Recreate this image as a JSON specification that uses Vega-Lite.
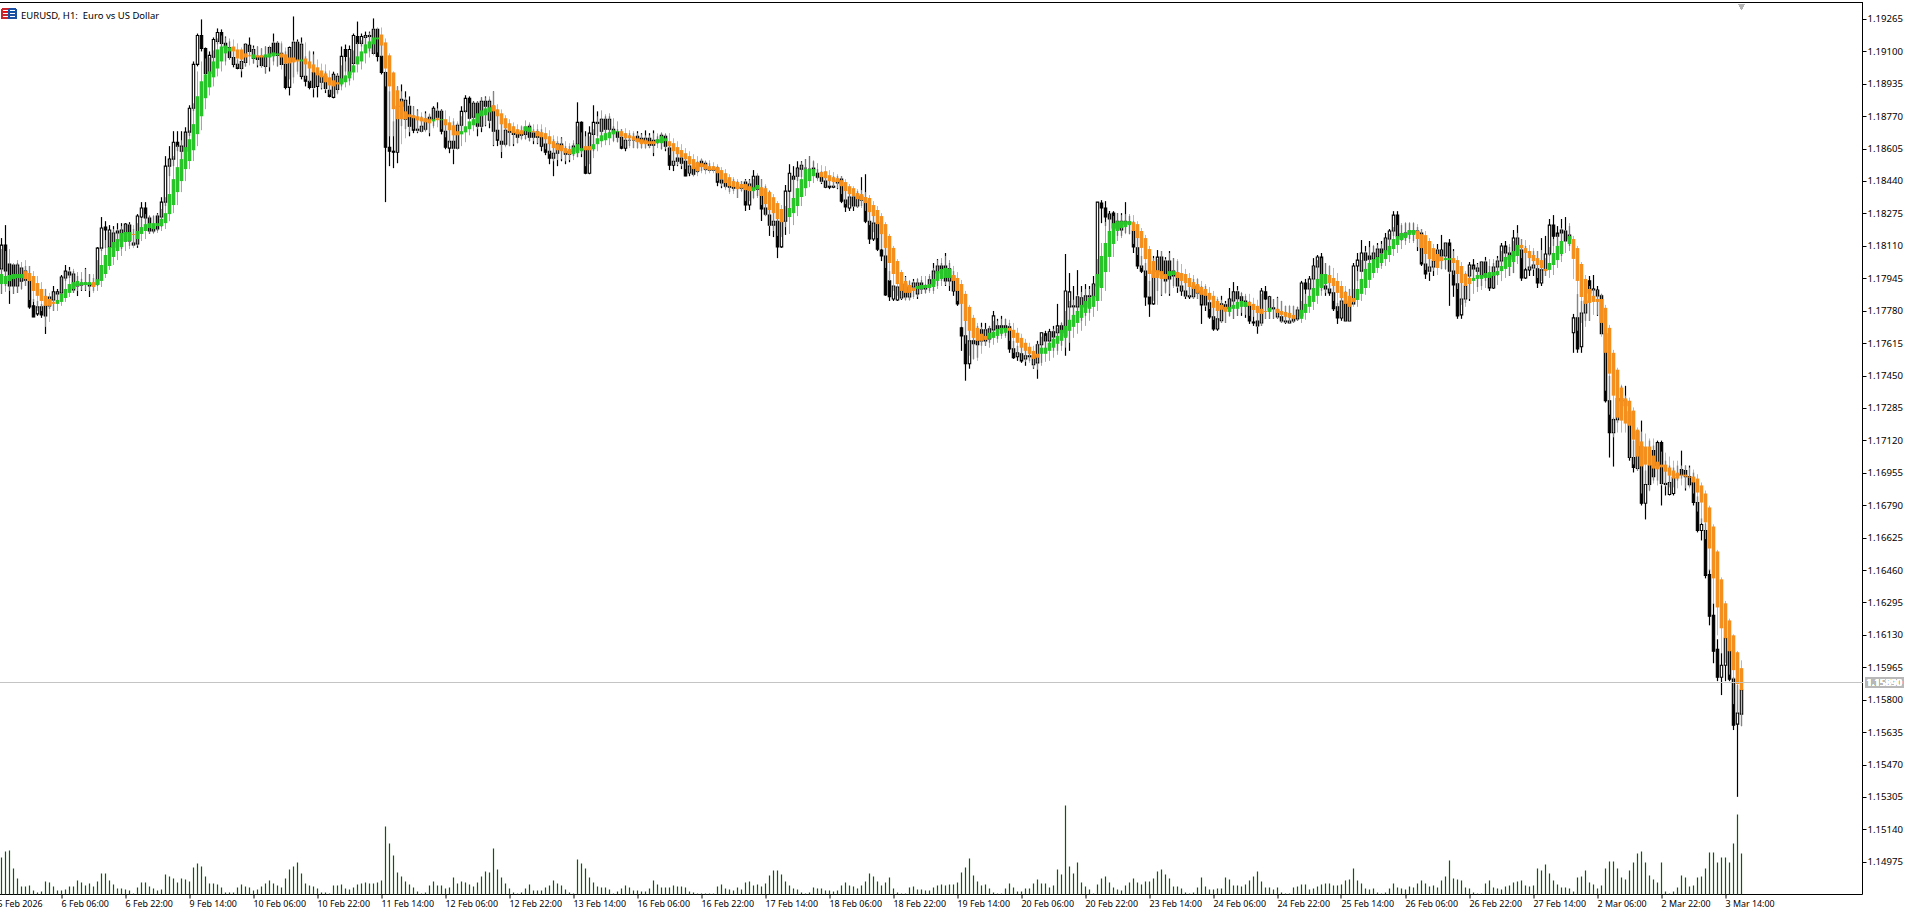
{"width":1862.5,"height":892,"autosize":"none","padding":{"left":0,"top":2.5,"right":49,"bottom":17},"background":"#ffffff","config":{"view":{"stroke":null},"font":"Noto Sans"},
"title":{"text":"EURUSD, H1:\u00a0 Euro vs US Dollar","anchor":"start","frame":"group","dx":21,"dy":22,"fontSize":9.5,"fontWeight":"normal","font":"Noto Sans","color":"#000000"},
"data":{"values":[
{"i":0,"o":1.17995,"h":1.18152,"l":1.17868,"c":1.18116,"ho":1.17918,"hc":1.17969,"hh":1.18096,"hl":1.17868,"v":37},
{"i":1,"o":1.18116,"h":1.18218,"l":1.17908,"c":1.17985,"ho":1.17918,"hc":1.17959,"hh":1.18086,"hl":1.17878,"v":43},
{"i":2,"o":1.18020,"h":1.18010,"l":1.17817,"c":1.17908,"ho":1.17933,"hc":1.17964,"hh":1.18096,"hl":1.17883,"v":44},
{"i":3,"o":1.18015,"h":1.18015,"l":1.17868,"c":1.17908,"ho":1.17943,"hc":1.17969,"hh":1.18025,"hl":1.17868,"v":26},
{"i":4,"o":1.17908,"h":1.18025,"l":1.17873,"c":1.18015,"ho":1.17948,"hc":1.17969,"hh":1.18040,"hl":1.17873,"v":16},
{"i":5,"o":1.17933,"h":1.18000,"l":1.17893,"c":1.18000,"ho":1.17948,"hc":1.17969,"hh":1.18030,"hl":1.17888,"v":8},
{"i":6,"o":1.17984,"h":1.18010,"l":1.17908,"c":1.17938,"ho":1.17984,"hc":1.17943,"hh":1.18040,"hl":1.17908,"v":8},
{"i":7,"o":1.17933,"h":1.18010,"l":1.17792,"c":1.17802,"ho":1.17974,"hc":1.17933,"hh":1.18010,"hl":1.17837,"v":9},
{"i":8,"o":1.17807,"h":1.17842,"l":1.17750,"c":1.17750,"ho":1.17959,"hc":1.17883,"hh":1.17984,"hl":1.17827,"v":4},
{"i":9,"o":1.17766,"h":1.17832,"l":1.17756,"c":1.17802,"ho":1.17923,"hc":1.17858,"hh":1.17959,"hl":1.17781,"v":2},
{"i":10,"o":1.17802,"h":1.17817,"l":1.17746,"c":1.17761,"ho":1.17893,"hc":1.17832,"hh":1.17928,"hl":1.17781,"v":3},
{"i":11,"o":1.17807,"h":1.17893,"l":1.17664,"c":1.17756,"ho":1.17858,"hc":1.17807,"hh":1.17893,"hl":1.17700,"v":13},
{"i":12,"o":1.17807,"h":1.17852,"l":1.17791,"c":1.17852,"ho":1.17842,"hc":1.17807,"hh":1.17873,"hl":1.17725,"v":12},
{"i":13,"o":1.17837,"h":1.17908,"l":1.17781,"c":1.17878,"ho":1.17827,"hc":1.17817,"hh":1.17878,"hl":1.17781,"v":8},
{"i":14,"o":1.17868,"h":1.17893,"l":1.17832,"c":1.17878,"ho":1.17817,"hc":1.17837,"hh":1.17878,"hl":1.17781,"v":4},
{"i":15,"o":1.17873,"h":1.17964,"l":1.17852,"c":1.17954,"ho":1.17827,"hc":1.17868,"hh":1.17948,"hl":1.17807,"v":4},
{"i":16,"o":1.17949,"h":1.18015,"l":1.17934,"c":1.17984,"ho":1.17847,"hc":1.17893,"hh":1.17979,"hl":1.17827,"v":5},
{"i":17,"o":1.17979,"h":1.18005,"l":1.17949,"c":1.17964,"ho":1.17873,"hc":1.17918,"hh":1.17990,"hl":1.17852,"v":8},
{"i":18,"o":1.17888,"h":1.17984,"l":1.17873,"c":1.17969,"ho":1.17893,"hc":1.17928,"hh":1.17995,"hl":1.17873,"v":8},
{"i":19,"o":1.17918,"h":1.17959,"l":1.17857,"c":1.17908,"ho":1.17908,"hc":1.17934,"hh":1.17979,"hl":1.17883,"v":14},
{"i":20,"o":1.17918,"h":1.17945,"l":1.17883,"c":1.17913,"ho":1.17913,"hc":1.17928,"hh":1.17979,"hl":1.17888,"v":12},
{"i":21,"o":1.17923,"h":1.18000,"l":1.17883,"c":1.17918,"ho":1.17913,"hc":1.17928,"hh":1.17995,"hl":1.17888,"v":9},
{"i":22,"o":1.17918,"h":1.17969,"l":1.17852,"c":1.17908,"ho":1.17913,"hc":1.17928,"hh":1.17969,"hl":1.17883,"v":11},
{"i":23,"o":1.17913,"h":1.17949,"l":1.17883,"c":1.17918,"ho":1.17928,"hc":1.17903,"hh":1.17969,"hl":1.17873,"v":8},
{"i":24,"o":1.17918,"h":1.18106,"l":1.17908,"c":1.18101,"ho":1.17913,"hc":1.17943,"hh":1.18040,"hl":1.17883,"v":13},
{"i":25,"o":1.18101,"h":1.18259,"l":1.18086,"c":1.18203,"ho":1.17934,"hc":1.18015,"hh":1.18106,"hl":1.17903,"v":21},
{"i":26,"o":1.18208,"h":1.18238,"l":1.18101,"c":1.18193,"ho":1.17969,"hc":1.18066,"hh":1.18142,"hl":1.17949,"v":21},
{"i":27,"o":1.18106,"h":1.18218,"l":1.18010,"c":1.18193,"ho":1.18010,"hc":1.18106,"hh":1.18182,"hl":1.17990,"v":14},
{"i":28,"o":1.18106,"h":1.18213,"l":1.18056,"c":1.18178,"ho":1.18056,"hc":1.18132,"hh":1.18198,"hl":1.18015,"v":10},
{"i":29,"o":1.18188,"h":1.18228,"l":1.18086,"c":1.18178,"ho":1.18086,"hc":1.18147,"hh":1.18198,"hl":1.18040,"v":6},
{"i":30,"o":1.18137,"h":1.18228,"l":1.18096,"c":1.18193,"ho":1.18106,"hc":1.18178,"hh":1.18213,"hl":1.18061,"v":6},
{"i":31,"o":1.18178,"h":1.18228,"l":1.18137,"c":1.18223,"ho":1.18132,"hc":1.18183,"hh":1.18223,"hl":1.18086,"v":5},
{"i":32,"o":1.18218,"h":1.18233,"l":1.18112,"c":1.18137,"ho":1.18137,"hc":1.18183,"hh":1.18223,"hl":1.18096,"v":4},
{"i":33,"o":1.18117,"h":1.18198,"l":1.18112,"c":1.18127,"ho":1.18173,"hc":1.18168,"hh":1.18218,"hl":1.18101,"v":1},
{"i":34,"o":1.18122,"h":1.18274,"l":1.18102,"c":1.18264,"ho":1.18147,"hc":1.18188,"hh":1.18228,"hl":1.18112,"v":7},
{"i":35,"o":1.18259,"h":1.18335,"l":1.18198,"c":1.18305,"ho":1.18173,"hc":1.18208,"hh":1.18254,"hl":1.18137,"v":12},
{"i":36,"o":1.18305,"h":1.18335,"l":1.18213,"c":1.18254,"ho":1.18188,"hc":1.18223,"hh":1.18274,"hl":1.18147,"v":12},
{"i":37,"o":1.18254,"h":1.18264,"l":1.18173,"c":1.18188,"ho":1.18203,"hc":1.18228,"hh":1.18269,"hl":1.18173,"v":8},
{"i":38,"o":1.18188,"h":1.18264,"l":1.18178,"c":1.18198,"ho":1.18198,"hc":1.18228,"hh":1.18269,"hl":1.18173,"v":6},
{"i":39,"o":1.18264,"h":1.18279,"l":1.18188,"c":1.18198,"ho":1.18213,"hc":1.18228,"hh":1.18274,"hl":1.18178,"v":4},
{"i":40,"o":1.18259,"h":1.18360,"l":1.18208,"c":1.18335,"ho":1.18213,"hc":1.18249,"hh":1.18300,"hl":1.18188,"v":5},
{"i":41,"o":1.18335,"h":1.18569,"l":1.18315,"c":1.18518,"ho":1.18228,"hc":1.18279,"hh":1.18360,"hl":1.18198,"v":20},
{"i":42,"o":1.18518,"h":1.18620,"l":1.18467,"c":1.18554,"ho":1.18274,"hc":1.18376,"hh":1.18554,"hl":1.18238,"v":18},
{"i":43,"o":1.18554,"h":1.18696,"l":1.18518,"c":1.18640,"ho":1.18320,"hc":1.18452,"hh":1.18569,"hl":1.18279,"v":16},
{"i":44,"o":1.18640,"h":1.18696,"l":1.18594,"c":1.18620,"ho":1.18386,"hc":1.18513,"hh":1.18625,"hl":1.18320,"v":12},
{"i":45,"o":1.18594,"h":1.18696,"l":1.18544,"c":1.18620,"ho":1.18442,"hc":1.18554,"hh":1.18650,"hl":1.18386,"v":16},
{"i":46,"o":1.18594,"h":1.18716,"l":1.18518,"c":1.18691,"ho":1.18503,"hc":1.18615,"hh":1.18686,"hl":1.18442,"v":15},
{"i":47,"o":1.18691,"h":1.18828,"l":1.18671,"c":1.18813,"ho":1.18544,"hc":1.18655,"hh":1.18701,"hl":1.18503,"v":13},
{"i":48,"o":1.18813,"h":1.19051,"l":1.18798,"c":1.19036,"ho":1.18599,"hc":1.18732,"hh":1.18838,"hl":1.18544,"v":27},
{"i":49,"o":1.19036,"h":1.19193,"l":1.19026,"c":1.19183,"ho":1.18681,"hc":1.18874,"hh":1.19000,"hl":1.18620,"v":31},
{"i":50,"o":1.19183,"h":1.19265,"l":1.19102,"c":1.19117,"ho":1.18772,"hc":1.18950,"hh":1.19051,"hl":1.18701,"v":28},
{"i":51,"o":1.19117,"h":1.19122,"l":1.18924,"c":1.18990,"ho":1.18864,"hc":1.18985,"hh":1.19066,"hl":1.18808,"v":18},
{"i":52,"o":1.18990,"h":1.19102,"l":1.18950,"c":1.19082,"ho":1.18919,"hc":1.19000,"hh":1.19071,"hl":1.18878,"v":11},
{"i":53,"o":1.19072,"h":1.19173,"l":1.18975,"c":1.19163,"ho":1.18970,"hc":1.19051,"hh":1.19107,"hl":1.18924,"v":11},
{"i":54,"o":1.19153,"h":1.19219,"l":1.19138,"c":1.19198,"ho":1.19015,"hc":1.19112,"hh":1.19168,"hl":1.18975,"v":10},
{"i":55,"o":1.19198,"h":1.19214,"l":1.19102,"c":1.19143,"ho":1.19051,"hc":1.19127,"hh":1.19183,"hl":1.19000,"v":7},
{"i":56,"o":1.19143,"h":1.19178,"l":1.19051,"c":1.19122,"ho":1.19092,"hc":1.19132,"hh":1.19173,"hl":1.19031,"v":2},
{"i":57,"o":1.19122,"h":1.19153,"l":1.19061,"c":1.19071,"ho":1.19102,"hc":1.19122,"hh":1.19168,"hl":1.19061,"v":2},
{"i":58,"o":1.19071,"h":1.19102,"l":1.19021,"c":1.19036,"ho":1.19127,"hc":1.19102,"hh":1.19163,"hl":1.19036,"v":2},
{"i":59,"o":1.19036,"h":1.19061,"l":1.19011,"c":1.19015,"ho":1.19112,"hc":1.19066,"hh":1.19143,"hl":1.19021,"v":7},
{"i":60,"o":1.19015,"h":1.19102,"l":1.18970,"c":1.19051,"ho":1.19112,"hc":1.19061,"hh":1.19122,"hl":1.19000,"v":10},
{"i":61,"o":1.19046,"h":1.19143,"l":1.19026,"c":1.19138,"ho":1.19092,"hc":1.19071,"hh":1.19143,"hl":1.19026,"v":8},
{"i":62,"o":1.19133,"h":1.19173,"l":1.19077,"c":1.19102,"ho":1.19082,"hc":1.19077,"hh":1.19132,"hl":1.19031,"v":7},
{"i":63,"o":1.19066,"h":1.19132,"l":1.19041,"c":1.19112,"ho":1.19066,"hc":1.19087,"hh":1.19122,"hl":1.19041,"v":4},
{"i":64,"o":1.19077,"h":1.19127,"l":1.19021,"c":1.19061,"ho":1.19082,"hc":1.19071,"hh":1.19127,"hl":1.19031,"v":5},
{"i":65,"o":1.19077,"h":1.19117,"l":1.19021,"c":1.19031,"ho":1.19082,"hc":1.19071,"hh":1.19117,"hl":1.19021,"v":8},
{"i":66,"o":1.19026,"h":1.19127,"l":1.18990,"c":1.19077,"ho":1.19071,"hc":1.19087,"hh":1.19127,"hl":1.18990,"v":11},
{"i":67,"o":1.19077,"h":1.19127,"l":1.19000,"c":1.19122,"ho":1.19071,"hc":1.19092,"hh":1.19132,"hl":1.19021,"v":14},
{"i":68,"o":1.19143,"h":1.19193,"l":1.19051,"c":1.19092,"ho":1.19077,"hc":1.19097,"hh":1.19153,"hl":1.19031,"v":11},
{"i":69,"o":1.19143,"h":1.19153,"l":1.19026,"c":1.19082,"ho":1.19082,"hc":1.19092,"hh":1.19153,"hl":1.19026,"v":9},
{"i":70,"o":1.19092,"h":1.19143,"l":1.19036,"c":1.19036,"ho":1.19092,"hc":1.19071,"hh":1.19153,"hl":1.19010,"v":7},
{"i":71,"o":1.19036,"h":1.19102,"l":1.18909,"c":1.18919,"ho":1.19087,"hc":1.19041,"hh":1.19122,"hl":1.18975,"v":16},
{"i":72,"o":1.18919,"h":1.19127,"l":1.18878,"c":1.19122,"ho":1.19071,"hc":1.19041,"hh":1.19117,"hl":1.18960,"v":25},
{"i":73,"o":1.19051,"h":1.19280,"l":1.18970,"c":1.19148,"ho":1.19071,"hc":1.19046,"hh":1.19158,"hl":1.18939,"v":28},
{"i":74,"o":1.19148,"h":1.19163,"l":1.18999,"c":1.19061,"ho":1.19061,"hc":1.19051,"hh":1.19153,"hl":1.18985,"v":32},
{"i":75,"o":1.18975,"h":1.19173,"l":1.18960,"c":1.19138,"ho":1.19051,"hc":1.19061,"hh":1.19148,"hl":1.18975,"v":21},
{"i":76,"o":1.18975,"h":1.19077,"l":1.18924,"c":1.18950,"ho":1.19066,"hc":1.19036,"hh":1.19148,"hl":1.18960,"v":11},
{"i":77,"o":1.18950,"h":1.19102,"l":1.18909,"c":1.18919,"ho":1.19051,"hc":1.19015,"hh":1.19107,"hl":1.18945,"v":9},
{"i":78,"o":1.18995,"h":1.19102,"l":1.18868,"c":1.18919,"ho":1.19036,"hc":1.18995,"hh":1.19087,"hl":1.18909,"v":8},
{"i":79,"o":1.18924,"h":1.19010,"l":1.18868,"c":1.18990,"ho":1.19021,"hc":1.18980,"hh":1.19061,"hl":1.18929,"v":6},
{"i":80,"o":1.18945,"h":1.19000,"l":1.18909,"c":1.18975,"ho":1.19005,"hc":1.18970,"hh":1.19040,"hl":1.18914,"v":2},
{"i":81,"o":1.18975,"h":1.19000,"l":1.18890,"c":1.18914,"ho":1.18990,"hc":1.18945,"hh":1.19036,"hl":1.18904,"v":2},
{"i":82,"o":1.18904,"h":1.18950,"l":1.18868,"c":1.18873,"ho":1.18970,"hc":1.18929,"hh":1.19005,"hl":1.18883,"v":1},
{"i":83,"o":1.18868,"h":1.18999,"l":1.18863,"c":1.18985,"ho":1.18955,"hc":1.18924,"hh":1.18985,"hl":1.18883,"v":9},
{"i":84,"o":1.18909,"h":1.18990,"l":1.18888,"c":1.18975,"ho":1.18945,"hc":1.18934,"hh":1.18985,"hl":1.18883,"v":9},
{"i":85,"o":1.18940,"h":1.19127,"l":1.18924,"c":1.19077,"ho":1.18934,"hc":1.18965,"hh":1.19031,"hl":1.18904,"v":10},
{"i":86,"o":1.19112,"h":1.19137,"l":1.19000,"c":1.19077,"ho":1.18945,"hc":1.18980,"hh":1.19051,"hl":1.18919,"v":6},
{"i":87,"o":1.18985,"h":1.19132,"l":1.18950,"c":1.19112,"ho":1.18965,"hc":1.19000,"hh":1.19071,"hl":1.18929,"v":5},
{"i":88,"o":1.19041,"h":1.19193,"l":1.19000,"c":1.19183,"ho":1.18995,"hc":1.19031,"hh":1.19107,"hl":1.18955,"v":7},
{"i":89,"o":1.19178,"h":1.19254,"l":1.19051,"c":1.19143,"ho":1.19036,"hc":1.19077,"hh":1.19148,"hl":1.18995,"v":10},
{"i":90,"o":1.19143,"h":1.19193,"l":1.19127,"c":1.19178,"ho":1.19051,"hc":1.19102,"hh":1.19158,"hl":1.19010,"v":11},
{"i":91,"o":1.19173,"h":1.19203,"l":1.19112,"c":1.19183,"ho":1.19092,"hc":1.19138,"hh":1.19183,"hl":1.19041,"v":12},
{"i":92,"o":1.19178,"h":1.19203,"l":1.19102,"c":1.19183,"ho":1.19117,"hc":1.19153,"hh":1.19198,"hl":1.19071,"v":11},
{"i":93,"o":1.19092,"h":1.19270,"l":1.19102,"c":1.19214,"ho":1.19138,"hc":1.19173,"hh":1.19219,"hl":1.19082,"v":11},
{"i":94,"o":1.19214,"h":1.19214,"l":1.19051,"c":1.19077,"ho":1.19163,"hc":1.19173,"hh":1.19224,"hl":1.19097,"v":12},
{"i":95,"o":1.19077,"h":1.19153,"l":1.18985,"c":1.18995,"ho":1.19188,"hc":1.19132,"hh":1.19224,"hl":1.19077,"v":14},
{"i":96,"o":1.18995,"h":1.19000,"l":1.18335,"c":1.18614,"ho":1.19148,"hc":1.19015,"hh":1.19168,"hl":1.18924,"v":68},
{"i":97,"o":1.18614,"h":1.18899,"l":1.18518,"c":1.18594,"ho":1.19082,"hc":1.18924,"hh":1.19092,"hl":1.18670,"v":51},
{"i":98,"o":1.18594,"h":1.18746,"l":1.18508,"c":1.18589,"ho":1.18995,"hc":1.18808,"hh":1.19000,"hl":1.18670,"v":39},
{"i":99,"o":1.18589,"h":1.18924,"l":1.18533,"c":1.18823,"ho":1.18904,"hc":1.18757,"hh":1.18924,"hl":1.18594,"v":22},
{"i":100,"o":1.18823,"h":1.18934,"l":1.18721,"c":1.18858,"ho":1.18848,"hc":1.18757,"hh":1.18899,"hl":1.18630,"v":18},
{"i":101,"o":1.18757,"h":1.18899,"l":1.18706,"c":1.18853,"ho":1.18797,"hc":1.18757,"hh":1.18868,"hl":1.18660,"v":13},
{"i":102,"o":1.18823,"h":1.18873,"l":1.18670,"c":1.18721,"ho":1.18782,"hc":1.18767,"hh":1.18833,"hl":1.18691,"v":10},
{"i":103,"o":1.18772,"h":1.18823,"l":1.18686,"c":1.18701,"ho":1.18777,"hc":1.18762,"hh":1.18823,"hl":1.18706,"v":7},
{"i":104,"o":1.18706,"h":1.18807,"l":1.18686,"c":1.18701,"ho":1.18772,"hc":1.18751,"hh":1.18802,"hl":1.18691,"v":3},
{"i":105,"o":1.18696,"h":1.18772,"l":1.18691,"c":1.18721,"ho":1.18767,"hc":1.18746,"hh":1.18792,"hl":1.18691,"v":1},
{"i":106,"o":1.18706,"h":1.18797,"l":1.18696,"c":1.18757,"ho":1.18762,"hc":1.18741,"hh":1.18787,"hl":1.18691,"v":2},
{"i":107,"o":1.18757,"h":1.18782,"l":1.18670,"c":1.18767,"ho":1.18757,"hc":1.18736,"hh":1.18787,"hl":1.18686,"v":9},
{"i":108,"o":1.18757,"h":1.18823,"l":1.18721,"c":1.18813,"ho":1.18746,"hc":1.18757,"hh":1.18807,"hl":1.18711,"v":13},
{"i":109,"o":1.18797,"h":1.18843,"l":1.18757,"c":1.18767,"ho":1.18762,"hc":1.18752,"hh":1.18812,"hl":1.18716,"v":9},
{"i":110,"o":1.18797,"h":1.18807,"l":1.18680,"c":1.18696,"ho":1.18752,"hc":1.18757,"hh":1.18802,"hl":1.18706,"v":9},
{"i":111,"o":1.18696,"h":1.18746,"l":1.18604,"c":1.18614,"ho":1.18757,"hc":1.18726,"hh":1.18802,"hl":1.18665,"v":6},
{"i":112,"o":1.18610,"h":1.18736,"l":1.18584,"c":1.18645,"ho":1.18741,"hc":1.18701,"hh":1.18772,"hl":1.18635,"v":7},
{"i":113,"o":1.18645,"h":1.18746,"l":1.18528,"c":1.18610,"ho":1.18726,"hc":1.18675,"hh":1.18762,"hl":1.18600,"v":17},
{"i":114,"o":1.18610,"h":1.18736,"l":1.18604,"c":1.18726,"ho":1.18696,"hc":1.18675,"hh":1.18746,"hl":1.18604,"v":11},
{"i":115,"o":1.18726,"h":1.18823,"l":1.18686,"c":1.18797,"ho":1.18680,"hc":1.18696,"hh":1.18772,"hl":1.18620,"v":13},
{"i":116,"o":1.18797,"h":1.18879,"l":1.18787,"c":1.18863,"ho":1.18690,"hc":1.18721,"hh":1.18802,"hl":1.18640,"v":12},
{"i":117,"o":1.18863,"h":1.18873,"l":1.18757,"c":1.18762,"ho":1.18706,"hc":1.18746,"hh":1.18838,"hl":1.18675,"v":10},
{"i":118,"o":1.18767,"h":1.18848,"l":1.18746,"c":1.18838,"ho":1.18726,"hc":1.18757,"hh":1.18843,"hl":1.18696,"v":8},
{"i":119,"o":1.18838,"h":1.18848,"l":1.18670,"c":1.18721,"ho":1.18736,"hc":1.18787,"hh":1.18848,"hl":1.18706,"v":12},
{"i":120,"o":1.18721,"h":1.18868,"l":1.18691,"c":1.18848,"ho":1.18772,"hc":1.18802,"hh":1.18868,"hl":1.18711,"v":18},
{"i":121,"o":1.18848,"h":1.18873,"l":1.18721,"c":1.18823,"ho":1.18777,"hc":1.18812,"hh":1.18868,"hl":1.18726,"v":23},
{"i":122,"o":1.18752,"h":1.18858,"l":1.18711,"c":1.18848,"ho":1.18792,"hc":1.18818,"hh":1.18873,"hl":1.18736,"v":22},
{"i":123,"o":1.18823,"h":1.18899,"l":1.18620,"c":1.18696,"ho":1.18828,"hc":1.18797,"hh":1.18899,"hl":1.18625,"v":46},
{"i":124,"o":1.18701,"h":1.18807,"l":1.18620,"c":1.18650,"ho":1.18807,"hc":1.18772,"hh":1.18833,"hl":1.18655,"v":25},
{"i":125,"o":1.18645,"h":1.18772,"l":1.18559,"c":1.18630,"ho":1.18787,"hc":1.18731,"hh":1.18807,"hl":1.18590,"v":17},
{"i":126,"o":1.18630,"h":1.18746,"l":1.18620,"c":1.18701,"ho":1.18762,"hc":1.18711,"hh":1.18777,"hl":1.18614,"v":11},
{"i":127,"o":1.18696,"h":1.18736,"l":1.18620,"c":1.18691,"ho":1.18736,"hc":1.18696,"hh":1.18757,"hl":1.18620,"v":6},
{"i":128,"o":1.18691,"h":1.18721,"l":1.18620,"c":1.18680,"ho":1.18721,"hc":1.18686,"hh":1.18741,"hl":1.18630,"v":2},
{"i":129,"o":1.18686,"h":1.18706,"l":1.18635,"c":1.18665,"ho":1.18706,"hc":1.18680,"hh":1.18731,"hl":1.18635,"v":1},
{"i":130,"o":1.18691,"h":1.18721,"l":1.18655,"c":1.18675,"ho":1.18701,"hc":1.18680,"hh":1.18726,"hl":1.18650,"v":2},
{"i":131,"o":1.18680,"h":1.18716,"l":1.18655,"c":1.18716,"ho":1.18696,"hc":1.18721,"hh":1.18751,"hl":1.18655,"v":6},
{"i":132,"o":1.18721,"h":1.18731,"l":1.18645,"c":1.18665,"ho":1.18691,"hc":1.18716,"hh":1.18741,"hl":1.18645,"v":10},
{"i":133,"o":1.18686,"h":1.18706,"l":1.18630,"c":1.18665,"ho":1.18696,"hc":1.18691,"hh":1.18731,"hl":1.18645,"v":4},
{"i":134,"o":1.18691,"h":1.18706,"l":1.18630,"c":1.18665,"ho":1.18696,"hc":1.18670,"hh":1.18731,"hl":1.18635,"v":4},
{"i":135,"o":1.18665,"h":1.18706,"l":1.18594,"c":1.18620,"ho":1.18691,"hc":1.18665,"hh":1.18731,"hl":1.18620,"v":4},
{"i":136,"o":1.18630,"h":1.18685,"l":1.18574,"c":1.18589,"ho":1.18686,"hc":1.18655,"hh":1.18716,"hl":1.18604,"v":7},
{"i":137,"o":1.18594,"h":1.18670,"l":1.18528,"c":1.18559,"ho":1.18670,"hc":1.18630,"hh":1.18701,"hl":1.18579,"v":9},
{"i":138,"o":1.18559,"h":1.18655,"l":1.18467,"c":1.18584,"ho":1.18645,"hc":1.18610,"hh":1.18675,"hl":1.18543,"v":14},
{"i":139,"o":1.18584,"h":1.18645,"l":1.18518,"c":1.18630,"ho":1.18630,"hc":1.18599,"hh":1.18670,"hl":1.18549,"v":11},
{"i":140,"o":1.18605,"h":1.18665,"l":1.18543,"c":1.18630,"ho":1.18625,"hc":1.18594,"hh":1.18660,"hl":1.18554,"v":9},
{"i":141,"o":1.18594,"h":1.18620,"l":1.18528,"c":1.18579,"ho":1.18610,"hc":1.18584,"hh":1.18645,"hl":1.18543,"v":5},
{"i":142,"o":1.18594,"h":1.18620,"l":1.18538,"c":1.18579,"ho":1.18605,"hc":1.18579,"hh":1.18635,"hl":1.18549,"v":2},
{"i":143,"o":1.18594,"h":1.18635,"l":1.18569,"c":1.18620,"ho":1.18579,"hc":1.18614,"hh":1.18650,"hl":1.18549,"v":1},
{"i":144,"o":1.18630,"h":1.18843,"l":1.18564,"c":1.18741,"ho":1.18584,"hc":1.18630,"hh":1.18721,"hl":1.18564,"v":35},
{"i":145,"o":1.18741,"h":1.18746,"l":1.18564,"c":1.18604,"ho":1.18594,"hc":1.18610,"hh":1.18690,"hl":1.18579,"v":31},
{"i":146,"o":1.18604,"h":1.18696,"l":1.18477,"c":1.18482,"ho":1.18620,"hc":1.18599,"hh":1.18670,"hl":1.18518,"v":26},
{"i":147,"o":1.18482,"h":1.18721,"l":1.18477,"c":1.18686,"ho":1.18620,"hc":1.18599,"hh":1.18670,"hl":1.18528,"v":17},
{"i":148,"o":1.18680,"h":1.18828,"l":1.18594,"c":1.18741,"ho":1.18604,"hc":1.18630,"hh":1.18706,"hl":1.18559,"v":12},
{"i":149,"o":1.18741,"h":1.18797,"l":1.18670,"c":1.18736,"ho":1.18630,"hc":1.18660,"hh":1.18772,"hl":1.18594,"v":8},
{"i":150,"o":1.18696,"h":1.18762,"l":1.18645,"c":1.18757,"ho":1.18645,"hc":1.18675,"hh":1.18802,"hl":1.18614,"v":7},
{"i":151,"o":1.18757,"h":1.18772,"l":1.18655,"c":1.18706,"ho":1.18650,"hc":1.18686,"hh":1.18782,"hl":1.18625,"v":7},
{"i":152,"o":1.18706,"h":1.18772,"l":1.18670,"c":1.18757,"ho":1.18660,"hc":1.18691,"hh":1.18787,"hl":1.18625,"v":5},
{"i":153,"o":1.18706,"h":1.18721,"l":1.18645,"c":1.18691,"ho":1.18680,"hc":1.18701,"hh":1.18762,"hl":1.18640,"v":1},
{"i":154,"o":1.18691,"h":1.18706,"l":1.18640,"c":1.18665,"ho":1.18691,"hc":1.18696,"hh":1.18746,"hl":1.18640,"v":3},
{"i":155,"o":1.18665,"h":1.18706,"l":1.18604,"c":1.18610,"ho":1.18696,"hc":1.18670,"hh":1.18706,"hl":1.18620,"v":6},
{"i":156,"o":1.18610,"h":1.18686,"l":1.18594,"c":1.18650,"ho":1.18686,"hc":1.18660,"hh":1.18711,"hl":1.18610,"v":9},
{"i":157,"o":1.18650,"h":1.18686,"l":1.18620,"c":1.18650,"ho":1.18675,"hc":1.18660,"hh":1.18701,"hl":1.18610,"v":7},
{"i":158,"o":1.18650,"h":1.18686,"l":1.18610,"c":1.18650,"ho":1.18670,"hc":1.18650,"hh":1.18696,"hl":1.18610,"v":4},
{"i":159,"o":1.18670,"h":1.18696,"l":1.18610,"c":1.18645,"ho":1.18660,"hc":1.18640,"hh":1.18686,"hl":1.18605,"v":4},
{"i":160,"o":1.18660,"h":1.18686,"l":1.18610,"c":1.18640,"ho":1.18655,"hc":1.18630,"hh":1.18680,"hl":1.18605,"v":3},
{"i":161,"o":1.18640,"h":1.18700,"l":1.18610,"c":1.18660,"ho":1.18650,"hc":1.18630,"hh":1.18675,"hl":1.18605,"v":3},
{"i":162,"o":1.18660,"h":1.18686,"l":1.18610,"c":1.18625,"ho":1.18645,"hc":1.18630,"hh":1.18675,"hl":1.18610,"v":6},
{"i":163,"o":1.18625,"h":1.18700,"l":1.18569,"c":1.18650,"ho":1.18645,"hc":1.18630,"hh":1.18686,"hl":1.18585,"v":14},
{"i":164,"o":1.18645,"h":1.18670,"l":1.18630,"c":1.18650,"ho":1.18635,"hc":1.18655,"hh":1.18685,"hl":1.18610,"v":10},
{"i":165,"o":1.18640,"h":1.18686,"l":1.18604,"c":1.18675,"ho":1.18635,"hc":1.18670,"hh":1.18691,"hl":1.18604,"v":7},
{"i":166,"o":1.18670,"h":1.18680,"l":1.18594,"c":1.18620,"ho":1.18645,"hc":1.18660,"hh":1.18686,"hl":1.18605,"v":7},
{"i":167,"o":1.18610,"h":1.18635,"l":1.18498,"c":1.18523,"ho":1.18645,"hc":1.18620,"hh":1.18686,"hl":1.18574,"v":7},
{"i":168,"o":1.18523,"h":1.18594,"l":1.18493,"c":1.18543,"ho":1.18635,"hc":1.18594,"hh":1.18660,"hl":1.18528,"v":9},
{"i":169,"o":1.18559,"h":1.18594,"l":1.18518,"c":1.18543,"ho":1.18615,"hc":1.18579,"hh":1.18645,"hl":1.18523,"v":8},
{"i":170,"o":1.18559,"h":1.18594,"l":1.18503,"c":1.18533,"ho":1.18600,"hc":1.18564,"hh":1.18630,"hl":1.18518,"v":8},
{"i":171,"o":1.18543,"h":1.18569,"l":1.18467,"c":1.18468,"ho":1.18584,"hc":1.18554,"hh":1.18610,"hl":1.18503,"v":7},
{"i":172,"o":1.18483,"h":1.18569,"l":1.18467,"c":1.18518,"ho":1.18569,"hc":1.18528,"hh":1.18594,"hl":1.18482,"v":3},
{"i":173,"o":1.18508,"h":1.18543,"l":1.18467,"c":1.18477,"ho":1.18554,"hc":1.18503,"hh":1.18579,"hl":1.18467,"v":2},
{"i":174,"o":1.18533,"h":1.18543,"l":1.18482,"c":1.18493,"ho":1.18538,"hc":1.18493,"hh":1.18569,"hl":1.18467,"v":1},
{"i":175,"o":1.18543,"h":1.18554,"l":1.18493,"c":1.18518,"ho":1.18533,"hc":1.18513,"hh":1.18559,"hl":1.18482,"v":1},
{"i":176,"o":1.18533,"h":1.18543,"l":1.18493,"c":1.18503,"ho":1.18528,"hc":1.18503,"hh":1.18548,"hl":1.18477,"v":1},
{"i":177,"o":1.18503,"h":1.18533,"l":1.18493,"c":1.18498,"ho":1.18518,"hc":1.18498,"hh":1.18548,"hl":1.18482,"v":1},
{"i":178,"o":1.18503,"h":1.18518,"l":1.18493,"c":1.18498,"ho":1.18518,"hc":1.18498,"hh":1.18538,"hl":1.18482,"v":1},
{"i":179,"o":1.18508,"h":1.18518,"l":1.18416,"c":1.18437,"ho":1.18513,"hc":1.18482,"hh":1.18528,"hl":1.18442,"v":8},
{"i":180,"o":1.18447,"h":1.18482,"l":1.18406,"c":1.18432,"ho":1.18498,"hc":1.18452,"hh":1.18513,"hl":1.18416,"v":10},
{"i":181,"o":1.18447,"h":1.18482,"l":1.18406,"c":1.18416,"ho":1.18482,"hc":1.18432,"hh":1.18503,"hl":1.18396,"v":6},
{"i":182,"o":1.18416,"h":1.18452,"l":1.18386,"c":1.18411,"ho":1.18462,"hc":1.18416,"hh":1.18477,"hl":1.18376,"v":5},
{"i":183,"o":1.18411,"h":1.18452,"l":1.18391,"c":1.18406,"ho":1.18442,"hc":1.18411,"hh":1.18462,"hl":1.18376,"v":4},
{"i":184,"o":1.18411,"h":1.18442,"l":1.18356,"c":1.18406,"ho":1.18437,"hc":1.18401,"hh":1.18452,"hl":1.18356,"v":7},
{"i":185,"o":1.18411,"h":1.18442,"l":1.18391,"c":1.18406,"ho":1.18427,"hc":1.18406,"hh":1.18442,"hl":1.18386,"v":5},
{"i":186,"o":1.18437,"h":1.18452,"l":1.18290,"c":1.18320,"ho":1.18427,"hc":1.18396,"hh":1.18447,"hl":1.18340,"v":12},
{"i":187,"o":1.18320,"h":1.18452,"l":1.18295,"c":1.18427,"ho":1.18416,"hc":1.18391,"hh":1.18447,"hl":1.18340,"v":13},
{"i":188,"o":1.18406,"h":1.18498,"l":1.18356,"c":1.18467,"ho":1.18391,"hc":1.18411,"hh":1.18452,"hl":1.18350,"v":9},
{"i":189,"o":1.18467,"h":1.18472,"l":1.18366,"c":1.18401,"ho":1.18401,"hc":1.18422,"hh":1.18482,"hl":1.18356,"v":10},
{"i":190,"o":1.18401,"h":1.18452,"l":1.18239,"c":1.18300,"ho":1.18411,"hc":1.18366,"hh":1.18452,"hl":1.18320,"v":8},
{"i":191,"o":1.18305,"h":1.18416,"l":1.18264,"c":1.18274,"ho":1.18406,"hc":1.18325,"hh":1.18426,"hl":1.18264,"v":11},
{"i":192,"o":1.18269,"h":1.18391,"l":1.18163,"c":1.18218,"ho":1.18386,"hc":1.18295,"hh":1.18396,"hl":1.18213,"v":19},
{"i":193,"o":1.18218,"h":1.18340,"l":1.18157,"c":1.18238,"ho":1.18360,"hc":1.18279,"hh":1.18376,"hl":1.18188,"v":24},
{"i":194,"o":1.18238,"h":1.18315,"l":1.18050,"c":1.18107,"ho":1.18330,"hc":1.18249,"hh":1.18340,"hl":1.18163,"v":24},
{"i":195,"o":1.18107,"h":1.18289,"l":1.18102,"c":1.18238,"ho":1.18300,"hc":1.18233,"hh":1.18320,"hl":1.18157,"v":20},
{"i":196,"o":1.18238,"h":1.18422,"l":1.18168,"c":1.18391,"ho":1.18264,"hc":1.18264,"hh":1.18315,"hl":1.18208,"v":13},
{"i":197,"o":1.18391,"h":1.18528,"l":1.18264,"c":1.18482,"ho":1.18259,"hc":1.18305,"hh":1.18386,"hl":1.18173,"v":9},
{"i":198,"o":1.18467,"h":1.18518,"l":1.18315,"c":1.18452,"ho":1.18279,"hc":1.18356,"hh":1.18467,"hl":1.18218,"v":6},
{"i":199,"o":1.18467,"h":1.18543,"l":1.18442,"c":1.18508,"ho":1.18315,"hc":1.18406,"hh":1.18508,"hl":1.18264,"v":5},
{"i":200,"o":1.18503,"h":1.18543,"l":1.18462,"c":1.18523,"ho":1.18361,"hc":1.18452,"hh":1.18538,"hl":1.18315,"v":2},
{"i":201,"o":1.18508,"h":1.18554,"l":1.18493,"c":1.18508,"ho":1.18406,"hc":1.18503,"hh":1.18554,"hl":1.18366,"v":1},
{"i":202,"o":1.18503,"h":1.18569,"l":1.18482,"c":1.18503,"ho":1.18442,"hc":1.18503,"hh":1.18569,"hl":1.18411,"v":2},
{"i":203,"o":1.18508,"h":1.18543,"l":1.18482,"c":1.18503,"ho":1.18467,"hc":1.18503,"hh":1.18548,"hl":1.18432,"v":7},
{"i":204,"o":1.18482,"h":1.18503,"l":1.18452,"c":1.18462,"ho":1.18488,"hc":1.18488,"hh":1.18533,"hl":1.18442,"v":6},
{"i":205,"o":1.18462,"h":1.18492,"l":1.18427,"c":1.18442,"ho":1.18488,"hc":1.18462,"hh":1.18523,"hl":1.18432,"v":6},
{"i":206,"o":1.18442,"h":1.18492,"l":1.18406,"c":1.18411,"ho":1.18492,"hc":1.18457,"hh":1.18518,"hl":1.18411,"v":4},
{"i":207,"o":1.18416,"h":1.18467,"l":1.18401,"c":1.18411,"ho":1.18472,"hc":1.18442,"hh":1.18498,"hl":1.18416,"v":4},
{"i":208,"o":1.18416,"h":1.18467,"l":1.18406,"c":1.18411,"ho":1.18462,"hc":1.18437,"hh":1.18488,"hl":1.18411,"v":3},
{"i":209,"o":1.18432,"h":1.18467,"l":1.18401,"c":1.18447,"ho":1.18457,"hc":1.18437,"hh":1.18477,"hl":1.18406,"v":4},
{"i":210,"o":1.18452,"h":1.18467,"l":1.18330,"c":1.18340,"ho":1.18447,"hc":1.18416,"hh":1.18467,"hl":1.18376,"v":9},
{"i":211,"o":1.18345,"h":1.18391,"l":1.18285,"c":1.18310,"ho":1.18437,"hc":1.18391,"hh":1.18452,"hl":1.18325,"v":12},
{"i":212,"o":1.18305,"h":1.18391,"l":1.18290,"c":1.18361,"ho":1.18416,"hc":1.18376,"hh":1.18427,"hl":1.18320,"v":9},
{"i":213,"o":1.18361,"h":1.18381,"l":1.18290,"c":1.18315,"ho":1.18406,"hc":1.18366,"hh":1.18416,"hl":1.18310,"v":8},
{"i":214,"o":1.18315,"h":1.18391,"l":1.18305,"c":1.18366,"ho":1.18381,"hc":1.18350,"hh":1.18401,"hl":1.18305,"v":6},
{"i":215,"o":1.18345,"h":1.18462,"l":1.18315,"c":1.18366,"ho":1.18376,"hc":1.18345,"hh":1.18396,"hl":1.18305,"v":9},
{"i":216,"o":1.18340,"h":1.18477,"l":1.18228,"c":1.18238,"ho":1.18361,"hc":1.18330,"hh":1.18386,"hl":1.18290,"v":13},
{"i":217,"o":1.18238,"h":1.18315,"l":1.18122,"c":1.18147,"ho":1.18356,"hc":1.18284,"hh":1.18371,"hl":1.18218,"v":21},
{"i":218,"o":1.18147,"h":1.18315,"l":1.18137,"c":1.18228,"ho":1.18320,"hc":1.18264,"hh":1.18340,"hl":1.18182,"v":18},
{"i":219,"o":1.18228,"h":1.18290,"l":1.18086,"c":1.18096,"ho":1.18295,"hc":1.18223,"hh":1.18315,"hl":1.18152,"v":13},
{"i":220,"o":1.18091,"h":1.18213,"l":1.18035,"c":1.18061,"ho":1.18264,"hc":1.18172,"hh":1.18279,"hl":1.18096,"v":9},
{"i":221,"o":1.18061,"h":1.18137,"l":1.17858,"c":1.17863,"ho":1.18223,"hc":1.18102,"hh":1.18233,"hl":1.18000,"v":12},
{"i":222,"o":1.17934,"h":1.17984,"l":1.17832,"c":1.17853,"ho":1.18163,"hc":1.18025,"hh":1.18173,"hl":1.17934,"v":17},
{"i":223,"o":1.17842,"h":1.17908,"l":1.17832,"c":1.17908,"ho":1.18102,"hc":1.17969,"hh":1.18112,"hl":1.17883,"v":6},
{"i":224,"o":1.17837,"h":1.17908,"l":1.17832,"c":1.17903,"ho":1.18035,"hc":1.17918,"hh":1.18045,"hl":1.17858,"v":2},
{"i":225,"o":1.17847,"h":1.17934,"l":1.17837,"c":1.17918,"ho":1.17979,"hc":1.17883,"hh":1.17990,"hl":1.17842,"v":1},
{"i":226,"o":1.17918,"h":1.17959,"l":1.17837,"c":1.17852,"ho":1.17934,"hc":1.17873,"hh":1.17954,"hl":1.17832,"v":1},
{"i":227,"o":1.17852,"h":1.17934,"l":1.17837,"c":1.17903,"ho":1.17913,"hc":1.17873,"hh":1.17939,"hl":1.17832,"v":7},
{"i":228,"o":1.17903,"h":1.17944,"l":1.17852,"c":1.17923,"ho":1.17898,"hc":1.17883,"hh":1.17934,"hl":1.17842,"v":8},
{"i":229,"o":1.17868,"h":1.17944,"l":1.17842,"c":1.17923,"ho":1.17893,"hc":1.17908,"hh":1.17949,"hl":1.17852,"v":5},
{"i":230,"o":1.17923,"h":1.17939,"l":1.17868,"c":1.17893,"ho":1.17893,"hc":1.17913,"hh":1.17959,"hl":1.17868,"v":5},
{"i":231,"o":1.17893,"h":1.17918,"l":1.17873,"c":1.17908,"ho":1.17898,"hc":1.17913,"hh":1.17959,"hl":1.17868,"v":4},
{"i":232,"o":1.17908,"h":1.17959,"l":1.17883,"c":1.17939,"ho":1.17898,"hc":1.17918,"hh":1.17969,"hl":1.17873,"v":4},
{"i":233,"o":1.17918,"h":1.18025,"l":1.17883,"c":1.17984,"ho":1.17903,"hc":1.17944,"hh":1.18000,"hl":1.17868,"v":7},
{"i":234,"o":1.17974,"h":1.18045,"l":1.17908,"c":1.18010,"ho":1.17934,"hc":1.17984,"hh":1.18040,"hl":1.17893,"v":9},
{"i":235,"o":1.18010,"h":1.18025,"l":1.17934,"c":1.17995,"ho":1.17944,"hc":1.17995,"hh":1.18050,"hl":1.17908,"v":10},
{"i":236,"o":1.18010,"h":1.18076,"l":1.17908,"c":1.17934,"ho":1.17949,"hc":1.18000,"hh":1.18061,"hl":1.17913,"v":9},
{"i":237,"o":1.17934,"h":1.18025,"l":1.17883,"c":1.17995,"ho":1.17949,"hc":1.17995,"hh":1.18040,"hl":1.17908,"v":10},
{"i":238,"o":1.17959,"h":1.17984,"l":1.17858,"c":1.17883,"ho":1.17964,"hc":1.17934,"hh":1.18010,"hl":1.17883,"v":10},
{"i":239,"o":1.17883,"h":1.17934,"l":1.17807,"c":1.17817,"ho":1.17949,"hc":1.17883,"hh":1.17979,"hl":1.17832,"v":12},
{"i":240,"o":1.17695,"h":1.17832,"l":1.17578,"c":1.17654,"ho":1.17918,"hc":1.17817,"hh":1.17939,"hl":1.17700,"v":22},
{"i":241,"o":1.17654,"h":1.17730,"l":1.17426,"c":1.17512,"ho":1.17868,"hc":1.17730,"hh":1.17883,"hl":1.17614,"v":27},
{"i":242,"o":1.17512,"h":1.17680,"l":1.17487,"c":1.17629,"ho":1.17802,"hc":1.17680,"hh":1.17812,"hl":1.17553,"v":36},
{"i":243,"o":1.17629,"h":1.17705,"l":1.17537,"c":1.17614,"ho":1.17746,"hc":1.17644,"hh":1.17761,"hl":1.17532,"v":19},
{"i":244,"o":1.17629,"h":1.17705,"l":1.17543,"c":1.17609,"ho":1.17695,"hc":1.17629,"hh":1.17720,"hl":1.17527,"v":13},
{"i":245,"o":1.17685,"h":1.17721,"l":1.17604,"c":1.17629,"ho":1.17665,"hc":1.17629,"hh":1.17700,"hl":1.17563,"v":9},
{"i":246,"o":1.17629,"h":1.17720,"l":1.17604,"c":1.17685,"ho":1.17654,"hc":1.17634,"hh":1.17690,"hl":1.17604,"v":10},
{"i":247,"o":1.17639,"h":1.17705,"l":1.17619,"c":1.17690,"ho":1.17639,"hc":1.17670,"hh":1.17705,"hl":1.17594,"v":6},
{"i":248,"o":1.17685,"h":1.17781,"l":1.17670,"c":1.17756,"ho":1.17644,"hc":1.17675,"hh":1.17731,"hl":1.17609,"v":2},
{"i":249,"o":1.17705,"h":1.17741,"l":1.17639,"c":1.17690,"ho":1.17654,"hc":1.17690,"hh":1.17731,"hl":1.17619,"v":1},
{"i":250,"o":1.17705,"h":1.17756,"l":1.17654,"c":1.17690,"ho":1.17665,"hc":1.17695,"hh":1.17741,"hl":1.17639,"v":1},
{"i":251,"o":1.17705,"h":1.17741,"l":1.17654,"c":1.17695,"ho":1.17670,"hc":1.17695,"hh":1.17741,"hl":1.17644,"v":6},
{"i":252,"o":1.17700,"h":1.17720,"l":1.17568,"c":1.17588,"ho":1.17695,"hc":1.17680,"hh":1.17736,"hl":1.17629,"v":11},
{"i":253,"o":1.17588,"h":1.17629,"l":1.17537,"c":1.17543,"ho":1.17685,"hc":1.17644,"hh":1.17720,"hl":1.17568,"v":7},
{"i":254,"o":1.17548,"h":1.17604,"l":1.17527,"c":1.17568,"ho":1.17670,"hc":1.17619,"hh":1.17695,"hl":1.17553,"v":3},
{"i":255,"o":1.17563,"h":1.17604,"l":1.17517,"c":1.17527,"ho":1.17644,"hc":1.17594,"hh":1.17665,"hl":1.17532,"v":3},
{"i":256,"o":1.17537,"h":1.17588,"l":1.17502,"c":1.17553,"ho":1.17619,"hc":1.17578,"hh":1.17639,"hl":1.17522,"v":6},
{"i":257,"o":1.17548,"h":1.17583,"l":1.17527,"c":1.17553,"ho":1.17599,"hc":1.17563,"hh":1.17619,"hl":1.17517,"v":6},
{"i":258,"o":1.17507,"h":1.17578,"l":1.17487,"c":1.17553,"ho":1.17578,"hc":1.17537,"hh":1.17604,"hl":1.17492,"v":11},
{"i":259,"o":1.17517,"h":1.17629,"l":1.17436,"c":1.17609,"ho":1.17563,"hc":1.17543,"hh":1.17614,"hl":1.17482,"v":15},
{"i":260,"o":1.17609,"h":1.17670,"l":1.17517,"c":1.17670,"ho":1.17563,"hc":1.17594,"hh":1.17650,"hl":1.17502,"v":11},
{"i":261,"o":1.17665,"h":1.17680,"l":1.17578,"c":1.17629,"ho":1.17563,"hc":1.17594,"hh":1.17654,"hl":1.17522,"v":11},
{"i":262,"o":1.17629,"h":1.17690,"l":1.17604,"c":1.17675,"ho":1.17578,"hc":1.17619,"hh":1.17670,"hl":1.17527,"v":7},
{"i":263,"o":1.17675,"h":1.17705,"l":1.17578,"c":1.17649,"ho":1.17594,"hc":1.17639,"hh":1.17690,"hl":1.17543,"v":9},
{"i":264,"o":1.17670,"h":1.17817,"l":1.17578,"c":1.17705,"ho":1.17614,"hc":1.17654,"hh":1.17695,"hl":1.17558,"v":25},
{"i":265,"o":1.17705,"h":1.17720,"l":1.17604,"c":1.17670,"ho":1.17629,"hc":1.17685,"hh":1.17725,"hl":1.17578,"v":20},
{"i":266,"o":1.17654,"h":1.18071,"l":1.17553,"c":1.17883,"ho":1.17644,"hc":1.17705,"hh":1.17781,"hl":1.17594,"v":89},
{"i":267,"o":1.17802,"h":1.17974,"l":1.17578,"c":1.17878,"ho":1.17680,"hc":1.17736,"hh":1.17832,"hl":1.17619,"v":28},
{"i":268,"o":1.17802,"h":1.17908,"l":1.17706,"c":1.17807,"ho":1.17700,"hc":1.17761,"hh":1.17838,"hl":1.17644,"v":21},
{"i":269,"o":1.17802,"h":1.17989,"l":1.17756,"c":1.17853,"ho":1.17720,"hc":1.17781,"hh":1.17863,"hl":1.17665,"v":32},
{"i":270,"o":1.17802,"h":1.17908,"l":1.17731,"c":1.17848,"ho":1.17746,"hc":1.17812,"hh":1.17878,"hl":1.17680,"v":12},
{"i":271,"o":1.17802,"h":1.17918,"l":1.17756,"c":1.17858,"ho":1.17771,"hc":1.17832,"hh":1.17893,"hl":1.17705,"v":8},
{"i":272,"o":1.17858,"h":1.17908,"l":1.17771,"c":1.17853,"ho":1.17792,"hc":1.17848,"hh":1.17893,"hl":1.17731,"v":5},
{"i":273,"o":1.17853,"h":1.17959,"l":1.17802,"c":1.17918,"ho":1.17802,"hc":1.17858,"hh":1.17918,"hl":1.17751,"v":1},
{"i":274,"o":1.17908,"h":1.18335,"l":1.17883,"c":1.18335,"ho":1.17832,"hc":1.17969,"hh":1.18045,"hl":1.17781,"v":10},
{"i":275,"o":1.18330,"h":1.18345,"l":1.18228,"c":1.18305,"ho":1.17898,"hc":1.18061,"hh":1.18127,"hl":1.17832,"v":16},
{"i":276,"o":1.18305,"h":1.18340,"l":1.18213,"c":1.18259,"ho":1.17979,"hc":1.18127,"hh":1.18234,"hl":1.17883,"v":18},
{"i":277,"o":1.18274,"h":1.18290,"l":1.18162,"c":1.18249,"ho":1.18056,"hc":1.18188,"hh":1.18274,"hl":1.17979,"v":12},
{"i":278,"o":1.18279,"h":1.18289,"l":1.18137,"c":1.18203,"ho":1.18122,"hc":1.18228,"hh":1.18264,"hl":1.18056,"v":7},
{"i":279,"o":1.18198,"h":1.18279,"l":1.18163,"c":1.18238,"ho":1.18188,"hc":1.18238,"hh":1.18279,"hl":1.18137,"v":5},
{"i":280,"o":1.18193,"h":1.18279,"l":1.18163,"c":1.18238,"ho":1.18203,"hc":1.18238,"hh":1.18269,"hl":1.18152,"v":4},
{"i":281,"o":1.18238,"h":1.18335,"l":1.18178,"c":1.18223,"ho":1.18208,"hc":1.18238,"hh":1.18274,"hl":1.18172,"v":9},
{"i":282,"o":1.18233,"h":1.18264,"l":1.18172,"c":1.18228,"ho":1.18218,"hc":1.18238,"hh":1.18274,"hl":1.18172,"v":12},
{"i":283,"o":1.18188,"h":1.18238,"l":1.18076,"c":1.18107,"ho":1.18233,"hc":1.18188,"hh":1.18269,"hl":1.18122,"v":16},
{"i":284,"o":1.18102,"h":1.18162,"l":1.17995,"c":1.18010,"ho":1.18223,"hc":1.18152,"hh":1.18238,"hl":1.18066,"v":12},
{"i":285,"o":1.18010,"h":1.18061,"l":1.17974,"c":1.17984,"ho":1.18188,"hc":1.18102,"hh":1.18203,"hl":1.18000,"v":10},
{"i":286,"o":1.17984,"h":1.18025,"l":1.17807,"c":1.17852,"ho":1.18152,"hc":1.18045,"hh":1.18168,"hl":1.17959,"v":13},
{"i":287,"o":1.17852,"h":1.17934,"l":1.17751,"c":1.17817,"ho":1.18096,"hc":1.17969,"hh":1.18112,"hl":1.17853,"v":13},
{"i":288,"o":1.17817,"h":1.18061,"l":1.17812,"c":1.17984,"ho":1.18035,"hc":1.17949,"hh":1.18050,"hl":1.17832,"v":16},
{"i":289,"o":1.17984,"h":1.18091,"l":1.17883,"c":1.18055,"ho":1.17989,"hc":1.17949,"hh":1.18045,"hl":1.17812,"v":23},
{"i":290,"o":1.18055,"h":1.18086,"l":1.17858,"c":1.17964,"ho":1.17984,"hc":1.17944,"hh":1.18086,"hl":1.17863,"v":25},
{"i":291,"o":1.18035,"h":1.18055,"l":1.17873,"c":1.17934,"ho":1.17969,"hc":1.17944,"hh":1.18045,"hl":1.17868,"v":20},
{"i":292,"o":1.18035,"h":1.18086,"l":1.17858,"c":1.17944,"ho":1.17959,"hc":1.17984,"hh":1.18076,"hl":1.17868,"v":16},
{"i":293,"o":1.17984,"h":1.18050,"l":1.17908,"c":1.17959,"ho":1.17964,"hc":1.17984,"hh":1.18050,"hl":1.17898,"v":8},
{"i":294,"o":1.17974,"h":1.18035,"l":1.17873,"c":1.17908,"ho":1.17979,"hc":1.17949,"hh":1.18045,"hl":1.17898,"v":8},
{"i":295,"o":1.17908,"h":1.17974,"l":1.17858,"c":1.17883,"ho":1.17974,"hc":1.17934,"hh":1.18020,"hl":1.17883,"v":6},
{"i":296,"o":1.17883,"h":1.17959,"l":1.17842,"c":1.17858,"ho":1.17969,"hc":1.17923,"hh":1.17995,"hl":1.17853,"v":2},
{"i":297,"o":1.17858,"h":1.17934,"l":1.17842,"c":1.17853,"ho":1.17949,"hc":1.17903,"hh":1.17974,"hl":1.17853,"v":1},
{"i":298,"o":1.17853,"h":1.17944,"l":1.17842,"c":1.17908,"ho":1.17928,"hc":1.17893,"hh":1.17964,"hl":1.17842,"v":2},
{"i":299,"o":1.17908,"h":1.17944,"l":1.17842,"c":1.17873,"ho":1.17918,"hc":1.17873,"hh":1.17949,"hl":1.17842,"v":7},
{"i":300,"o":1.17883,"h":1.17908,"l":1.17715,"c":1.17812,"ho":1.17903,"hc":1.17863,"hh":1.17934,"hl":1.17817,"v":17},
{"i":301,"o":1.17858,"h":1.17908,"l":1.17781,"c":1.17812,"ho":1.17893,"hc":1.17858,"hh":1.17918,"hl":1.17802,"v":8},
{"i":302,"o":1.17822,"h":1.17873,"l":1.17741,"c":1.17751,"ho":1.17873,"hc":1.17838,"hh":1.17903,"hl":1.17791,"v":5},
{"i":303,"o":1.17751,"h":1.17858,"l":1.17680,"c":1.17690,"ho":1.17858,"hc":1.17797,"hh":1.17883,"hl":1.17736,"v":5},
{"i":304,"o":1.17690,"h":1.17842,"l":1.17680,"c":1.17741,"ho":1.17832,"hc":1.17781,"hh":1.17853,"hl":1.17690,"v":6},
{"i":305,"o":1.17731,"h":1.17858,"l":1.17720,"c":1.17817,"ho":1.17812,"hc":1.17787,"hh":1.17838,"hl":1.17720,"v":6},
{"i":306,"o":1.17812,"h":1.17832,"l":1.17720,"c":1.17792,"ho":1.17802,"hc":1.17777,"hh":1.17822,"hl":1.17720,"v":17},
{"i":307,"o":1.17792,"h":1.17898,"l":1.17756,"c":1.17842,"ho":1.17776,"hc":1.17802,"hh":1.17842,"hl":1.17751,"v":15},
{"i":308,"o":1.17832,"h":1.17928,"l":1.17741,"c":1.17878,"ho":1.17792,"hc":1.17812,"hh":1.17878,"hl":1.17741,"v":9},
{"i":309,"o":1.17878,"h":1.17908,"l":1.17756,"c":1.17843,"ho":1.17792,"hc":1.17827,"hh":1.17888,"hl":1.17756,"v":9},
{"i":310,"o":1.17853,"h":1.17873,"l":1.17756,"c":1.17832,"ho":1.17802,"hc":1.17832,"hh":1.17878,"hl":1.17771,"v":8},
{"i":311,"o":1.17832,"h":1.17858,"l":1.17746,"c":1.17807,"ho":1.17802,"hc":1.17827,"hh":1.17868,"hl":1.17761,"v":10},
{"i":312,"o":1.17807,"h":1.17832,"l":1.17715,"c":1.17730,"ho":1.17827,"hc":1.17807,"hh":1.17868,"hl":1.17756,"v":14},
{"i":313,"o":1.17725,"h":1.17817,"l":1.17705,"c":1.17720,"ho":1.17817,"hc":1.17786,"hh":1.17848,"hl":1.17751,"v":18},
{"i":314,"o":1.17730,"h":1.17807,"l":1.17665,"c":1.17705,"ho":1.17807,"hc":1.17771,"hh":1.17838,"hl":1.17700,"v":23},
{"i":315,"o":1.17720,"h":1.17898,"l":1.17705,"c":1.17883,"ho":1.17792,"hc":1.17766,"hh":1.17868,"hl":1.17705,"v":13},
{"i":316,"o":1.17878,"h":1.17908,"l":1.17741,"c":1.17842,"ho":1.17781,"hc":1.17776,"hh":1.17837,"hl":1.17741,"v":7},
{"i":317,"o":1.17786,"h":1.17858,"l":1.17741,"c":1.17853,"ho":1.17776,"hc":1.17797,"hh":1.17848,"hl":1.17741,"v":7},
{"i":318,"o":1.17792,"h":1.17842,"l":1.17741,"c":1.17797,"ho":1.17786,"hc":1.17786,"hh":1.17842,"hl":1.17741,"v":5},
{"i":319,"o":1.17751,"h":1.17853,"l":1.17741,"c":1.17786,"ho":1.17792,"hc":1.17771,"hh":1.17848,"hl":1.17741,"v":7},
{"i":320,"o":1.17751,"h":1.17832,"l":1.17720,"c":1.17730,"ho":1.17781,"hc":1.17761,"hh":1.17832,"hl":1.17720,"v":2},
{"i":321,"o":1.17730,"h":1.17807,"l":1.17715,"c":1.17725,"ho":1.17776,"hc":1.17751,"hh":1.17807,"hl":1.17720,"v":1},
{"i":322,"o":1.17720,"h":1.17807,"l":1.17720,"c":1.17730,"ho":1.17771,"hc":1.17746,"hh":1.17812,"hl":1.17720,"v":1},
{"i":323,"o":1.17730,"h":1.17807,"l":1.17720,"c":1.17741,"ho":1.17761,"hc":1.17741,"hh":1.17807,"hl":1.17720,"v":7},
{"i":324,"o":1.17741,"h":1.17802,"l":1.17730,"c":1.17786,"ho":1.17761,"hc":1.17761,"hh":1.17802,"hl":1.17730,"v":8},
{"i":325,"o":1.17756,"h":1.17934,"l":1.17751,"c":1.17923,"ho":1.17741,"hc":1.17787,"hh":1.17832,"hl":1.17720,"v":10},
{"i":326,"o":1.17923,"h":1.17944,"l":1.17807,"c":1.17893,"ho":1.17771,"hc":1.17817,"hh":1.17868,"hl":1.17736,"v":10},
{"i":327,"o":1.17893,"h":1.17959,"l":1.17832,"c":1.17944,"ho":1.17802,"hc":1.17858,"hh":1.17923,"hl":1.17771,"v":5},
{"i":328,"o":1.17944,"h":1.18050,"l":1.17883,"c":1.18010,"ho":1.17827,"hc":1.17898,"hh":1.18010,"hl":1.17786,"v":6},
{"i":329,"o":1.18005,"h":1.18066,"l":1.17908,"c":1.18056,"ho":1.17858,"hc":1.17944,"hh":1.18040,"hl":1.17817,"v":8},
{"i":330,"o":1.18056,"h":1.18076,"l":1.17883,"c":1.17908,"ho":1.17898,"hc":1.17969,"hh":1.18050,"hl":1.17858,"v":10},
{"i":331,"o":1.17908,"h":1.18025,"l":1.17858,"c":1.17893,"ho":1.17918,"hc":1.17969,"hh":1.18025,"hl":1.17873,"v":11},
{"i":332,"o":1.17893,"h":1.18010,"l":1.17858,"c":1.17873,"ho":1.17964,"hc":1.17923,"hh":1.18015,"hl":1.17878,"v":11},
{"i":333,"o":1.17873,"h":1.17934,"l":1.17781,"c":1.17792,"ho":1.17949,"hc":1.17908,"hh":1.18000,"hl":1.17832,"v":9},
{"i":334,"o":1.17802,"h":1.17822,"l":1.17715,"c":1.17746,"ho":1.17934,"hc":1.17873,"hh":1.17974,"hl":1.17781,"v":9},
{"i":335,"o":1.17746,"h":1.17883,"l":1.17731,"c":1.17832,"ho":1.17908,"hc":1.17847,"hh":1.17934,"hl":1.17746,"v":10},
{"i":336,"o":1.17832,"h":1.17883,"l":1.17731,"c":1.17730,"ho":1.17878,"hc":1.17817,"hh":1.17908,"hl":1.17731,"v":14},
{"i":337,"o":1.17730,"h":1.17893,"l":1.17725,"c":1.17817,"ho":1.17858,"hc":1.17802,"hh":1.17893,"hl":1.17725,"v":15},
{"i":338,"o":1.17817,"h":1.18025,"l":1.17812,"c":1.18010,"ho":1.17847,"hc":1.17827,"hh":1.17893,"hl":1.17802,"v":26},
{"i":339,"o":1.18010,"h":1.18076,"l":1.17934,"c":1.18040,"ho":1.17837,"hc":1.17893,"hh":1.17984,"hl":1.17802,"v":14},
{"i":340,"o":1.17984,"h":1.18142,"l":1.17984,"c":1.18076,"ho":1.17868,"hc":1.17944,"hh":1.18040,"hl":1.17832,"v":11},
{"i":341,"o":1.18076,"h":1.18112,"l":1.17984,"c":1.18040,"ho":1.17898,"hc":1.17995,"hh":1.18086,"hl":1.17863,"v":6},
{"i":342,"o":1.18061,"h":1.18137,"l":1.18010,"c":1.18045,"ho":1.17939,"hc":1.18025,"hh":1.18106,"hl":1.17898,"v":5},
{"i":343,"o":1.18045,"h":1.18112,"l":1.17984,"c":1.18076,"ho":1.17974,"hc":1.18045,"hh":1.18117,"hl":1.17949,"v":6},
{"i":344,"o":1.18056,"h":1.18127,"l":1.18025,"c":1.18096,"ho":1.18000,"hc":1.18056,"hh":1.18117,"hl":1.17974,"v":2},
{"i":345,"o":1.18096,"h":1.18137,"l":1.18010,"c":1.18076,"ho":1.18025,"hc":1.18071,"hh":1.18122,"hl":1.17995,"v":1},
{"i":346,"o":1.18086,"h":1.18178,"l":1.18061,"c":1.18152,"ho":1.18045,"hc":1.18091,"hh":1.18147,"hl":1.18010,"v":2},
{"i":347,"o":1.18147,"h":1.18198,"l":1.18112,"c":1.18188,"ho":1.18066,"hc":1.18112,"hh":1.18173,"hl":1.18030,"v":6},
{"i":348,"o":1.18188,"h":1.18289,"l":1.18162,"c":1.18269,"ho":1.18096,"hc":1.18147,"hh":1.18208,"hl":1.18061,"v":11},
{"i":349,"o":1.18269,"h":1.18289,"l":1.18137,"c":1.18162,"ho":1.18117,"hc":1.18162,"hh":1.18218,"hl":1.18076,"v":7},
{"i":350,"o":1.18172,"h":1.18218,"l":1.18137,"c":1.18147,"ho":1.18142,"hc":1.18178,"hh":1.18228,"hl":1.18096,"v":6},
{"i":351,"o":1.18178,"h":1.18228,"l":1.18137,"c":1.18162,"ho":1.18152,"hc":1.18178,"hh":1.18233,"hl":1.18117,"v":5},
{"i":352,"o":1.18188,"h":1.18228,"l":1.18147,"c":1.18178,"ho":1.18168,"hc":1.18193,"hh":1.18233,"hl":1.18127,"v":8},
{"i":353,"o":1.18183,"h":1.18228,"l":1.18137,"c":1.18188,"ho":1.18168,"hc":1.18193,"hh":1.18233,"hl":1.18127,"v":7},
{"i":354,"o":1.18188,"h":1.18208,"l":1.18086,"c":1.18178,"ho":1.18188,"hc":1.18147,"hh":1.18223,"hl":1.18106,"v":11},
{"i":355,"o":1.18178,"h":1.18198,"l":1.18010,"c":1.18020,"ho":1.18172,"hc":1.18101,"hh":1.18198,"hl":1.18030,"v":14},
{"i":356,"o":1.18020,"h":1.18112,"l":1.17944,"c":1.17969,"ho":1.18167,"hc":1.18071,"hh":1.18188,"hl":1.17990,"v":11},
{"i":357,"o":1.17984,"h":1.18086,"l":1.17934,"c":1.18005,"ho":1.18137,"hc":1.18045,"hh":1.18152,"hl":1.17974,"v":8},
{"i":358,"o":1.18005,"h":1.18086,"l":1.17959,"c":1.18035,"ho":1.18101,"hc":1.18035,"hh":1.18122,"hl":1.17984,"v":9},
{"i":359,"o":1.18035,"h":1.18122,"l":1.18025,"c":1.18091,"ho":1.18071,"hc":1.18000,"hh":1.18096,"hl":1.17964,"v":7},
{"i":360,"o":1.18091,"h":1.18168,"l":1.17994,"c":1.18061,"ho":1.18056,"hc":1.18035,"hh":1.18091,"hl":1.17994,"v":14},
{"i":361,"o":1.18061,"h":1.18127,"l":1.17994,"c":1.18127,"ho":1.18040,"hc":1.18050,"hh":1.18122,"hl":1.17990,"v":18},
{"i":362,"o":1.18127,"h":1.18147,"l":1.17807,"c":1.17984,"ho":1.18040,"hc":1.18050,"hh":1.18112,"hl":1.17969,"v":34},
{"i":363,"o":1.17984,"h":1.18096,"l":1.17853,"c":1.17914,"ho":1.18050,"hc":1.18025,"hh":1.18086,"hl":1.17964,"v":16},
{"i":364,"o":1.17919,"h":1.17984,"l":1.17741,"c":1.17756,"ho":1.18040,"hc":1.17969,"hh":1.18061,"hl":1.17893,"v":15},
{"i":365,"o":1.17761,"h":1.17944,"l":1.17741,"c":1.17842,"ho":1.18010,"hc":1.17923,"hh":1.18030,"hl":1.17812,"v":14},
{"i":366,"o":1.17842,"h":1.17974,"l":1.17822,"c":1.17908,"ho":1.17969,"hc":1.17908,"hh":1.17984,"hl":1.17802,"v":7},
{"i":367,"o":1.17959,"h":1.18030,"l":1.17832,"c":1.18015,"ho":1.17949,"hc":1.17918,"hh":1.18005,"hl":1.17842,"v":6},
{"i":368,"o":1.18015,"h":1.18045,"l":1.17944,"c":1.17995,"ho":1.17934,"hc":1.17949,"hh":1.18010,"hl":1.17868,"v":2},
{"i":369,"o":1.17984,"h":1.18025,"l":1.17903,"c":1.18000,"ho":1.17944,"hc":1.17964,"hh":1.18020,"hl":1.17878,"v":1},
{"i":370,"o":1.17954,"h":1.18035,"l":1.17908,"c":1.18030,"ho":1.17944,"hc":1.17964,"hh":1.18035,"hl":1.17888,"v":1},
{"i":371,"o":1.18030,"h":1.18056,"l":1.17934,"c":1.17959,"ho":1.17949,"hc":1.17974,"hh":1.18040,"hl":1.17898,"v":11},
{"i":372,"o":1.17959,"h":1.18010,"l":1.17883,"c":1.17898,"ho":1.17949,"hc":1.17979,"hh":1.18045,"hl":1.17903,"v":14},
{"i":373,"o":1.17898,"h":1.18025,"l":1.17893,"c":1.18005,"ho":1.17959,"hc":1.17979,"hh":1.18045,"hl":1.17903,"v":7},
{"i":374,"o":1.18005,"h":1.18061,"l":1.17959,"c":1.18035,"ho":1.17964,"hc":1.17984,"hh":1.18050,"hl":1.17913,"v":6},
{"i":375,"o":1.18035,"h":1.18127,"l":1.17984,"c":1.18112,"ho":1.17984,"hc":1.18010,"hh":1.18086,"hl":1.17933,"v":5},
{"i":376,"o":1.18112,"h":1.18137,"l":1.18000,"c":1.18076,"ho":1.17995,"hc":1.18056,"hh":1.18106,"hl":1.17949,"v":8},
{"i":377,"o":1.18076,"h":1.18107,"l":1.17959,"c":1.18045,"ho":1.18005,"hc":1.18066,"hh":1.18122,"hl":1.17959,"v":9},
{"i":378,"o":1.18061,"h":1.18193,"l":1.17974,"c":1.18152,"ho":1.18030,"hc":1.18086,"hh":1.18137,"hl":1.17974,"v":12},
{"i":379,"o":1.18091,"h":1.18218,"l":1.18061,"c":1.18152,"ho":1.18061,"hc":1.18117,"hh":1.18178,"hl":1.18020,"v":13},
{"i":380,"o":1.18091,"h":1.18147,"l":1.17934,"c":1.17949,"ho":1.18117,"hc":1.18101,"hh":1.18147,"hl":1.18050,"v":14},
{"i":381,"o":1.17949,"h":1.18112,"l":1.17944,"c":1.17990,"ho":1.18101,"hc":1.18076,"hh":1.18142,"hl":1.18000,"v":9},
{"i":382,"o":1.17990,"h":1.18086,"l":1.17959,"c":1.18005,"ho":1.18086,"hc":1.18050,"hh":1.18117,"hl":1.17990,"v":8},
{"i":383,"o":1.18000,"h":1.18086,"l":1.17959,"c":1.18015,"ho":1.18066,"hc":1.18035,"hh":1.18101,"hl":1.17990,"v":9},
{"i":384,"o":1.17995,"h":1.18086,"l":1.17898,"c":1.17923,"ho":1.18050,"hc":1.18015,"hh":1.18086,"hl":1.17949,"v":26},
{"i":385,"o":1.17923,"h":1.18152,"l":1.17908,"c":1.17990,"ho":1.18040,"hc":1.18000,"hh":1.18091,"hl":1.17933,"v":24},
{"i":386,"o":1.17990,"h":1.18163,"l":1.17959,"c":1.18071,"ho":1.17995,"hc":1.17984,"hh":1.18050,"hl":1.17959,"v":30},
{"i":387,"o":1.18071,"h":1.18249,"l":1.18061,"c":1.18218,"ho":1.17990,"hc":1.18025,"hh":1.18106,"hl":1.17949,"v":21},
{"i":388,"o":1.18218,"h":1.18269,"l":1.18112,"c":1.18162,"ho":1.18015,"hc":1.18076,"hh":1.18147,"hl":1.17964,"v":14},
{"i":389,"o":1.18178,"h":1.18213,"l":1.18086,"c":1.18162,"ho":1.18040,"hc":1.18112,"hh":1.18172,"hl":1.18000,"v":10},
{"i":390,"o":1.18193,"h":1.18249,"l":1.18061,"c":1.18178,"ho":1.18071,"hc":1.18137,"hh":1.18203,"hl":1.18030,"v":7},
{"i":391,"o":1.18188,"h":1.18259,"l":1.18137,"c":1.18137,"ho":1.18137,"hc":1.18137,"hh":1.18193,"hl":1.18076,"v":7},
{"i":392,"o":1.18147,"h":1.18213,"l":1.18112,"c":1.18168,"ho":1.18122,"hc":1.18162,"hh":1.18228,"hl":1.18086,"v":6},
{"i":393,"o":1.17670,"h":1.17766,"l":1.17568,"c":1.17746,"ho":1.18147,"hc":1.18046,"hh":1.18163,"hl":1.17943,"v":3},
{"i":394,"o":1.17746,"h":1.17867,"l":1.17568,"c":1.17588,"ho":1.18101,"hc":1.17934,"hh":1.18112,"hl":1.17680,"v":17},
{"i":395,"o":1.17599,"h":1.17832,"l":1.17568,"c":1.17771,"ho":1.18020,"hc":1.17852,"hh":1.18030,"hl":1.17720,"v":18},
{"i":396,"o":1.17771,"h":1.17944,"l":1.17731,"c":1.17832,"ho":1.17944,"hc":1.17817,"hh":1.17964,"hl":1.17700,"v":24},
{"i":397,"o":1.17934,"h":1.17959,"l":1.17730,"c":1.17873,"ho":1.17893,"hc":1.17822,"hh":1.17908,"hl":1.17730,"v":12},
{"i":398,"o":1.17888,"h":1.17964,"l":1.17832,"c":1.17893,"ho":1.17858,"hc":1.17827,"hh":1.17893,"hl":1.17761,"v":10},
{"i":399,"o":1.17888,"h":1.17908,"l":1.17756,"c":1.17858,"ho":1.17842,"hc":1.17827,"hh":1.17888,"hl":1.17761,"v":6},
{"i":400,"o":1.17858,"h":1.17868,"l":1.17665,"c":1.17665,"ho":1.17842,"hc":1.17720,"hh":1.17868,"hl":1.17650,"v":9},
{"i":401,"o":1.17665,"h":1.17730,"l":1.17315,"c":1.17324,"ho":1.17797,"hc":1.17568,"hh":1.17812,"hl":1.17375,"v":26},
{"i":402,"o":1.17324,"h":1.17451,"l":1.17035,"c":1.17162,"ho":1.17695,"hc":1.17462,"hh":1.17710,"hl":1.17253,"v":33},
{"i":403,"o":1.17162,"h":1.17238,"l":1.16989,"c":1.17228,"ho":1.17568,"hc":1.17350,"hh":1.17583,"hl":1.17138,"v":33},
{"i":404,"o":1.17228,"h":1.17350,"l":1.17212,"c":1.17335,"ho":1.17482,"hc":1.17238,"hh":1.17492,"hl":1.17162,"v":26},
{"i":405,"o":1.17335,"h":1.17400,"l":1.17248,"c":1.17324,"ho":1.17391,"hc":1.17223,"hh":1.17406,"hl":1.17162,"v":17},
{"i":406,"o":1.17324,"h":1.17400,"l":1.17248,"c":1.17299,"ho":1.17336,"hc":1.17208,"hh":1.17350,"hl":1.17162,"v":15},
{"i":407,"o":1.17268,"h":1.17324,"l":1.17019,"c":1.17035,"ho":1.17324,"hc":1.17197,"hh":1.17340,"hl":1.17035,"v":24},
{"i":408,"o":1.17035,"h":1.17121,"l":1.16959,"c":1.16984,"ho":1.17274,"hc":1.17126,"hh":1.17290,"hl":1.17000,"v":32},
{"i":409,"o":1.16979,"h":1.17167,"l":1.16969,"c":1.17167,"ho":1.17177,"hc":1.17040,"hh":1.17188,"hl":1.16969,"v":41},
{"i":410,"o":1.17091,"h":1.17223,"l":1.16791,"c":1.16802,"ho":1.17117,"hc":1.16990,"hh":1.17167,"hl":1.16852,"v":43},
{"i":411,"o":1.16802,"h":1.16969,"l":1.16720,"c":1.16898,"ho":1.17091,"hc":1.16999,"hh":1.17157,"hl":1.16898,"v":32},
{"i":412,"o":1.16994,"h":1.17121,"l":1.16867,"c":1.16898,"ho":1.17091,"hc":1.16994,"hh":1.17132,"hl":1.16863,"v":19},
{"i":413,"o":1.17070,"h":1.17096,"l":1.16918,"c":1.16938,"ho":1.17045,"hc":1.16979,"hh":1.17132,"hl":1.16903,"v":15},
{"i":414,"o":1.16994,"h":1.17121,"l":1.16918,"c":1.17111,"ho":1.17014,"hc":1.16975,"hh":1.17106,"hl":1.16893,"v":12},
{"i":415,"o":1.17111,"h":1.17121,"l":1.16791,"c":1.16903,"ho":1.16999,"hc":1.16985,"hh":1.17065,"hl":1.16893,"v":32},
{"i":416,"o":1.16903,"h":1.17019,"l":1.16842,"c":1.16898,"ho":1.16999,"hc":1.16963,"hh":1.17060,"hl":1.16888,"v":3},
{"i":417,"o":1.16847,"h":1.16994,"l":1.16842,"c":1.16908,"ho":1.16984,"hc":1.16943,"hh":1.17040,"hl":1.16883,"v":1},
{"i":418,"o":1.16852,"h":1.16984,"l":1.16842,"c":1.16933,"ho":1.16969,"hc":1.16928,"hh":1.17019,"hl":1.16883,"v":3},
{"i":419,"o":1.16943,"h":1.16994,"l":1.16918,"c":1.16948,"ho":1.16958,"hc":1.16928,"hh":1.17019,"hl":1.16878,"v":7},
{"i":420,"o":1.16974,"h":1.17070,"l":1.16928,"c":1.16948,"ho":1.16948,"hc":1.16943,"hh":1.16994,"hl":1.16893,"v":19},
{"i":421,"o":1.16969,"h":1.16994,"l":1.16867,"c":1.16938,"ho":1.16948,"hc":1.16938,"hh":1.16994,"hl":1.16878,"v":17},
{"i":422,"o":1.16938,"h":1.16994,"l":1.16887,"c":1.16897,"ho":1.16938,"hc":1.16933,"hh":1.16984,"hl":1.16878,"v":8},
{"i":423,"o":1.16908,"h":1.16958,"l":1.16791,"c":1.16806,"ho":1.16938,"hc":1.16908,"hh":1.16974,"hl":1.16852,"v":9},
{"i":424,"o":1.16806,"h":1.16837,"l":1.16654,"c":1.16664,"ho":1.16928,"hc":1.16857,"hh":1.16950,"hl":1.16760,"v":17},
{"i":425,"o":1.16664,"h":1.16725,"l":1.16613,"c":1.16694,"ho":1.16893,"hc":1.16806,"hh":1.16908,"hl":1.16700,"v":18},
{"i":426,"o":1.16664,"h":1.16700,"l":1.16420,"c":1.16435,"ho":1.16852,"hc":1.16705,"hh":1.16867,"hl":1.16620,"v":26},
{"i":427,"o":1.16440,"h":1.16466,"l":1.16181,"c":1.16227,"ho":1.16781,"hc":1.16572,"hh":1.16790,"hl":1.16460,"v":42},
{"i":428,"o":1.16232,"h":1.16293,"l":1.15988,"c":1.16049,"ho":1.16684,"hc":1.16420,"hh":1.16695,"hl":1.16290,"v":42},
{"i":429,"o":1.16059,"h":1.16110,"l":1.15897,"c":1.15917,"ho":1.16557,"hc":1.16272,"hh":1.16565,"hl":1.16130,"v":32},
{"i":430,"o":1.15917,"h":1.16039,"l":1.15826,"c":1.15978,"ho":1.16415,"hc":1.16166,"hh":1.16425,"hl":1.16040,"v":37},
{"i":431,"o":1.15978,"h":1.16115,"l":1.15897,"c":1.16115,"ho":1.16293,"hc":1.16115,"hh":1.16305,"hl":1.15990,"v":37},
{"i":432,"o":1.16049,"h":1.16100,"l":1.15897,"c":1.15907,"ho":1.16206,"hc":1.16049,"hh":1.16215,"hl":1.15930,"v":32},
{"i":433,"o":1.15907,"h":1.15917,"l":1.15648,"c":1.15673,"ho":1.16130,"hc":1.15953,"hh":1.16135,"hl":1.15780,"v":51},
{"i":434,"o":1.15678,"h":1.15877,"l":1.15308,"c":1.15734,"ho":1.16044,"hc":1.15882,"hh":1.16050,"hl":1.15730,"v":80},
{"i":435,"o":1.15729,"h":1.15950,"l":1.15668,"c":1.15851,"ho":1.15963,"hc":1.15851,"hh":1.16003,"hl":1.15668,"v":41}
]},
"layer":[
{"layer":[
{"mark":{"type":"rule","color":"#000000","strokeWidth":1.2},"encoding":{"x":{"field":"i","type":"quantitative","scale":{"domain":[-1,465.25],"range":[-2.5,1862.5],"nice":false,"zero":false,"padding":0},"axis":{"translate":0,"values":[-1,15,31,47,63,79,95,111,127,143,159,175,191,207,223,239,255,271,287,303,319,335,351,367,383,399,415,431],"labelExpr":"['5 Feb 2026','6 Feb 06:00','6 Feb 22:00','9 Feb 14:00','10 Feb 06:00','10 Feb 22:00','11 Feb 14:00','12 Feb 06:00','12 Feb 22:00','13 Feb 14:00','16 Feb 06:00','16 Feb 22:00','17 Feb 14:00','18 Feb 06:00','18 Feb 22:00','19 Feb 14:00','20 Feb 06:00','20 Feb 22:00','23 Feb 14:00','24 Feb 06:00','24 Feb 22:00','25 Feb 14:00','26 Feb 06:00','26 Feb 22:00','27 Feb 14:00','2 Mar 06:00','2 Mar 22:00','3 Mar 14:00'][(datum.value+1)/16]","labelAlign":"left","labelFont":"Noto Sans","labelFontSize":8.9,"labelColor":"#000000","labelPadding":1,"labelBound":false,"labelFlush":false,"labelOverlap":false,"tickCount":60,"tickColor":"#000000","tickSize":4,"domainColor":"#000000","grid":false,"title":null}},"y":{"field":"l","type":"quantitative","scale":{"domain":[1.14811,1.19351],"nice":false,"zero":false},"axis":{"translate":0,"orient":"right","tickCount":60,"values":[1.14975,1.1514,1.15305,1.1547,1.15635,1.158,1.15965,1.1613,1.16295,1.1646,1.16625,1.1679,1.16955,1.1712,1.17285,1.1745,1.17615,1.1778,1.17945,1.1811,1.18275,1.1844,1.18605,1.1877,1.18935,1.191,1.19265],"format":".5f","labelFont":"Noto Sans","labelFontSize":9.6,"labelColor":"#000000","labelPadding":1,"labelOverlap":false,"labelFlush":false,"labelBound":false,"tickColor":"#000000","tickSize":4,"domainColor":"#000000","grid":false,"title":null}},"y2":{"field":"h"}}},
{"transform":[{"filter":"datum.c>=datum.o"}],"mark":{"type":"bar","size":2.4,"fill":"#ffffff","stroke":"#000000","strokeWidth":1.1},"encoding":{"x":{"field":"i","type":"quantitative"},"y":{"field":"o","type":"quantitative"},"y2":{"field":"c"}}},
{"transform":[{"filter":"datum.c<datum.o"}],"mark":{"type":"bar","size":2.4,"fill":"#000000","stroke":"#000000","strokeWidth":1.1},"encoding":{"x":{"field":"i","type":"quantitative"},"y":{"field":"o","type":"quantitative"},"y2":{"field":"c"}}},
{"mark":{"type":"rule","strokeWidth":1,"opacity":0.8},"encoding":{"x":{"field":"i","type":"quantitative"},"y":{"field":"hl","type":"quantitative"},"y2":{"field":"hh"},"color":{"condition":{"test":"datum.hc>=datum.ho","value":"#3cc83c"},"value":"#ee9a30"}}},
{"mark":{"type":"rule","strokeWidth":3.6,"strokeCap":"butt"},"encoding":{"x":{"field":"i","type":"quantitative"},"y":{"field":"ho","type":"quantitative"},"y2":{"field":"hc"},"color":{"condition":{"test":"datum.hc>=datum.ho","value":"#28c328"},"value":"#f48e1c"}}},
{"mark":{"type":"rule","strokeWidth":1,"color":"#c4c4c4"},"encoding":{"y":{"datum":1.1589}}},
{"mark":{"type":"rule","strokeWidth":1,"color":"#000000"},"encoding":{"y":{"datum":1.19351}}},
{"mark":{"type":"rect","fill":"#b8b8b8","opacity":1},"encoding":{"x":{"datum":465.9},"x2":{"datum":475.6},"y":{"datum":1.15862},"y2":{"datum":1.15918}}},
{"mark":{"type":"text","align":"center","baseline":"middle","font":"Noto Sans","fontSize":9.6,"color":"#ffffff"},"encoding":{"x":{"datum":470.7},"y":{"datum":1.1589},"text":{"value":"1.15890"}}},
{"mark":{"type":"point","shape":"triangle-down","size":40,"filled":true,"color":"#b4b4b4","opacity":1},"encoding":{"x":{"datum":435},"y":{"datum":1.1933}}},
{"mark":{"type":"point","shape":"M-1,-0.64H0V0.64H-1Z M-1,-0.2H0 M-1,0.2H0","size":196,"filled":false,"stroke":"#c8282d","strokeWidth":1,"opacity":1},"encoding":{"x":{"datum":1.875},"y":{"datum":1.19293}}},
{"mark":{"type":"point","shape":"M0,-0.64H1V0.64H0Z M0,-0.2H1 M0,0.2H1","size":196,"filled":false,"stroke":"#1e50a0","strokeWidth":1,"opacity":1},"encoding":{"x":{"datum":1.875},"y":{"datum":1.19293}}}
]},
{"mark":{"type":"rule","strokeWidth":1.2,"color":"#0a5a0a"},"encoding":{"x":{"field":"i","type":"quantitative"},"y":{"field":"v","type":"quantitative","scale":{"domain":[0,892],"range":[892,0]},"axis":null},"y2":{"datum":0}}}
],"resolve":{"scale":{"y":"independent"}}}
